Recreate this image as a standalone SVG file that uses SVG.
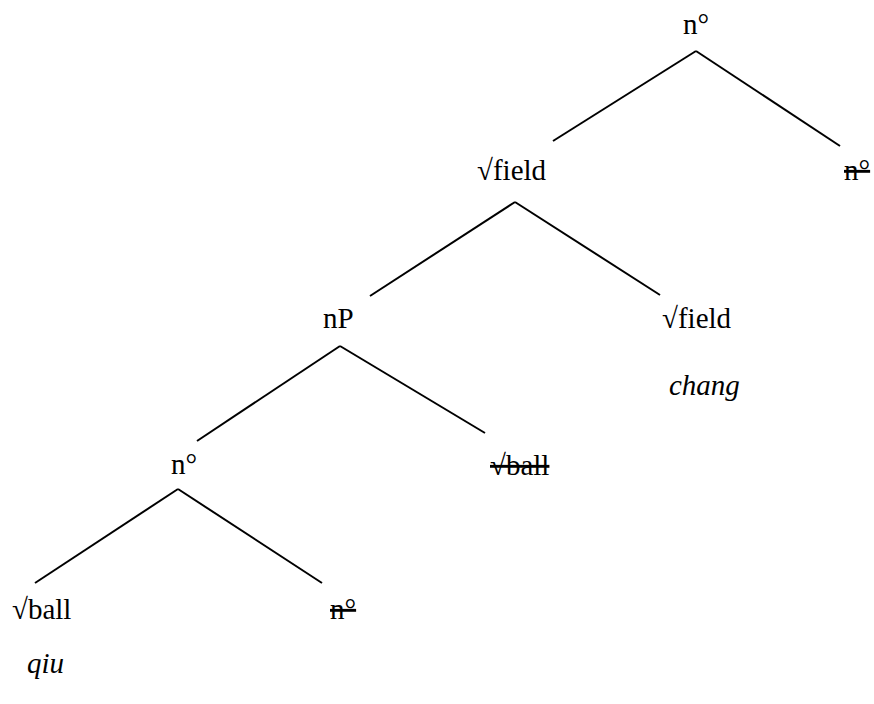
<svg xmlns="http://www.w3.org/2000/svg" width="874" height="704" viewBox="0 0 874 704">
<style>
text{font-family:"Liberation Serif","Times New Roman",serif;font-size:29px;fill:#000}
.it{font-style:italic}
.del{text-decoration:line-through}
.edge{stroke:#000;stroke-width:2;fill:none}
</style>
<rect width="874" height="704" fill="#fff"/>
<g id="connectors">
<line class="edge" x1="696" y1="51" x2="553" y2="141"/>
<line class="edge" x1="696" y1="51" x2="840" y2="146"/>
<line class="edge" x1="515" y1="202" x2="370" y2="296"/>
<line class="edge" x1="515" y1="202" x2="660" y2="295"/>
<line class="edge" x1="340" y1="346" x2="197" y2="441"/>
<line class="edge" x1="340" y1="346" x2="485" y2="433"/>
<line class="edge" x1="178" y1="489" x2="35" y2="583"/>
<line class="edge" x1="178" y1="489" x2="322" y2="583"/>
</g>
<g id="n-top"><text x="683" y="34">n°</text></g>
<g id="n-copy-top"><text class="del" x="844" y="180">n°</text></g>
<g id="field-1"><text x="477" y="180">√field</text></g>
<g id="nP"><text x="323" y="328">nP</text></g>
<g id="field-2"><text x="662" y="328">√field</text></g>
<g id="chang"><text class="it" x="669" y="395">chang</text></g>
<g id="n-mid"><text x="171" y="474">n°</text></g>
<g id="ball-copy"><text class="del" x="490" y="475">√ball</text></g>
<g id="ball"><text x="12" y="619">√ball</text></g>
<g id="n-copy-bottom"><text class="del" x="330" y="619">n°</text></g>
<g id="qiu"><text class="it" x="27" y="673">qiu</text></g>
</svg>
